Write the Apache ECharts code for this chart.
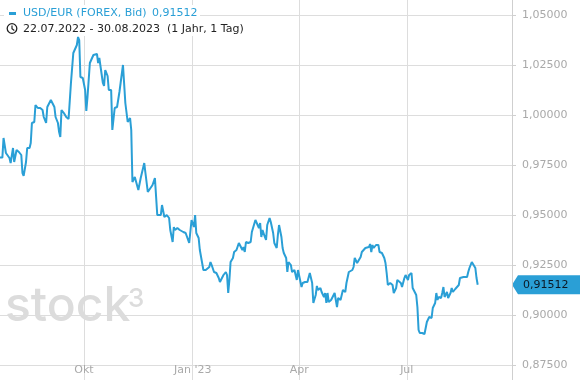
<!DOCTYPE html>
<html>
<head>
<meta charset="utf-8">
<script src="https://cdn.jsdelivr.net/npm/echarts@6/dist/echarts.min.js"></script>
<style>
html,body{margin:0;padding:0;background:#fff;}
#c{width:580px;height:380px;}
</style>
</head>
<body>
<div id="c"></div>
<script>
const seriesName = 'USD/EUR (FOREX, Bid)';
const rangeText = '22.07.2022 - 30.08.2023';
const rangeNote = '(1 Jahr, 1 Tag)';
const axisStart = '2022-07-22';
const axisEnd = '2023-09-28';
const xTickDates = ['2022-10-01', '2023-01-01', '2023-04-01', '2023-07-01'];
const xTickLabels = ['Okt', "Jan '23", 'Apr', 'Jul'];
const yTicks = [0.875, 0.9, 0.925, 0.95, 0.975, 1.0, 1.025, 1.05];

const dates = [
'2022-07-22','2022-07-24','2022-07-25','2022-07-27','2022-07-28','2022-07-30','2022-07-31',
'2022-08-02','2022-08-03','2022-08-05','2022-08-07','2022-08-09','2022-08-10','2022-08-11','2022-08-13','2022-08-14','2022-08-16','2022-08-17','2022-08-18','2022-08-20','2022-08-21','2022-08-23','2022-08-24','2022-08-25','2022-08-27','2022-08-28','2022-08-30','2022-08-31',
'2022-09-01','2022-09-03','2022-09-04','2022-09-06','2022-09-07','2022-09-09','2022-09-10','2022-09-11','2022-09-12','2022-09-14','2022-09-16','2022-09-17','2022-09-18','2022-09-20','2022-09-21','2022-09-22','2022-09-23','2022-09-25','2022-09-26','2022-09-27','2022-09-28','2022-09-30',
'2022-10-01','2022-10-02','2022-10-03','2022-10-04','2022-10-06','2022-10-07','2022-10-09','2022-10-12','2022-10-13','2022-10-14','2022-10-15','2022-10-17','2022-10-18','2022-10-19','2022-10-21','2022-10-22','2022-10-24','2022-10-25','2022-10-27','2022-10-29','2022-10-31',
'2022-11-01','2022-11-03','2022-11-05','2022-11-06','2022-11-07','2022-11-09','2022-11-10','2022-11-11','2022-11-13','2022-11-14','2022-11-16','2022-11-18','2022-11-19','2022-11-21','2022-11-22','2022-11-24','2022-11-25','2022-11-28','2022-11-30',
'2022-12-02','2022-12-03','2022-12-05','2022-12-06','2022-12-08','2022-12-10','2022-12-12','2022-12-13','2022-12-15','2022-12-16','2022-12-17','2022-12-19','2022-12-21','2022-12-22','2022-12-24','2022-12-26','2022-12-27','2022-12-29','2022-12-30','2022-12-31',
'2023-01-02','2023-01-03','2023-01-04','2023-01-06','2023-01-07','2023-01-08','2023-01-10','2023-01-12','2023-01-13','2023-01-15','2023-01-16','2023-01-17','2023-01-19','2023-01-21','2023-01-23','2023-01-24','2023-01-27','2023-01-29','2023-01-30','2023-01-31',
'2023-02-01','2023-02-02','2023-02-04','2023-02-05','2023-02-07','2023-02-08','2023-02-09','2023-02-10','2023-02-12','2023-02-13','2023-02-14','2023-02-15','2023-02-17','2023-02-19','2023-02-20','2023-02-21','2023-02-23','2023-02-24','2023-02-26','2023-02-27','2023-02-28',
'2023-03-01','2023-03-03','2023-03-04','2023-03-05','2023-03-07','2023-03-08','2023-03-10','2023-03-11','2023-03-13','2023-03-14','2023-03-15','2023-03-17','2023-03-18','2023-03-19','2023-03-21','2023-03-22','2023-03-23','2023-03-24','2023-03-25','2023-03-26','2023-03-28','2023-03-30','2023-03-31',
'2023-04-01','2023-04-03','2023-04-04','2023-04-06','2023-04-08','2023-04-10','2023-04-12','2023-04-13','2023-04-15','2023-04-16','2023-04-17','2023-04-19','2023-04-20','2023-04-22','2023-04-23','2023-04-24','2023-04-25','2023-04-26','2023-04-28','2023-04-29',
'2023-05-01','2023-05-02','2023-05-03','2023-05-04','2023-05-06','2023-05-07','2023-05-08','2023-05-10','2023-05-11','2023-05-13','2023-05-14','2023-05-16','2023-05-17','2023-05-18','2023-05-20','2023-05-21','2023-05-23','2023-05-24','2023-05-25','2023-05-27','2023-05-28','2023-05-30','2023-05-31',
'2023-06-01','2023-06-02','2023-06-03','2023-06-05','2023-06-07','2023-06-08','2023-06-09','2023-06-10','2023-06-12','2023-06-13','2023-06-14','2023-06-15','2023-06-16','2023-06-17','2023-06-19','2023-06-20','2023-06-22','2023-06-23','2023-06-24','2023-06-26','2023-06-27','2023-06-29','2023-06-30',
'2023-07-02','2023-07-03','2023-07-05','2023-07-06','2023-07-07','2023-07-09','2023-07-10','2023-07-11','2023-07-12','2023-07-14','2023-07-16','2023-07-17','2023-07-18','2023-07-20','2023-07-22','2023-07-23','2023-07-25','2023-07-26','2023-07-27','2023-07-28','2023-07-30','2023-07-31',
'2023-08-01','2023-08-02','2023-08-04','2023-08-05','2023-08-07','2023-08-08','2023-08-09','2023-08-11','2023-08-12','2023-08-14','2023-08-15','2023-08-16','2023-08-18','2023-08-19','2023-08-21','2023-08-22','2023-08-23','2023-08-24','2023-08-25','2023-08-26','2023-08-28','2023-08-29','2023-08-30'
];

const values = [
0.9787,0.9787,0.9885,0.981,0.98,0.9785,0.976,
0.9835,0.9765,0.9825,0.9815,0.98,0.971,0.9696,0.9765,0.9835,0.9835,0.986,0.996,0.9965,1.005,1.0035,1.003,1.0035,1.0025,0.999,0.996,1.004,
1.005,1.0075,1.0085,1.004,0.999,0.996,0.9915,0.989,1.0025,1.001,0.999,0.9985,0.998,1.016,1.0165,1.031,1.0315,1.035,1.039,1.0375,1.019,1.0185,
1.019,1.0125,1.002,1.009,1.026,1.0265,1.03,1.0305,1.026,1.0285,1.0275,1.016,1.0145,1.0225,1.0195,1.0125,1.0125,0.9925,1.0035,1.004,1.0115,
1.016,1.025,1.006,1.0065,0.9965,0.9985,0.9925,0.9665,0.969,0.9685,0.9625,0.9685,0.9685,0.976,0.971,0.9615,0.9615,0.965,0.9685,
0.95,0.949,0.95,0.955,0.949,0.95,0.9485,0.9425,0.9365,0.944,0.9425,0.9435,0.9425,0.9435,0.9415,0.941,0.9415,0.936,0.936,0.9475,
0.944,0.95,0.941,0.9385,0.9325,0.9315,0.9225,0.9225,0.9235,0.924,0.9265,0.925,0.9215,0.921,0.9185,0.9165,0.92,0.9215,0.92,0.911,
0.9175,0.9265,0.9285,0.9315,0.9325,0.9335,0.936,0.9365,0.9325,0.934,0.9315,0.9365,0.936,0.9365,0.9415,0.9435,0.9475,0.9485,0.9435,0.946,0.939,
0.9425,0.939,0.9375,0.945,0.9485,0.9465,0.941,0.936,0.9335,0.94,0.945,0.939,0.9335,0.931,0.9285,0.9215,0.9265,0.9275,0.925,0.9215,0.9225,0.9175,0.9225,
0.9215,0.914,0.916,0.9165,0.9165,0.921,0.916,0.906,0.91,0.9145,0.9125,0.9135,0.9115,0.909,0.911,0.906,0.911,0.9065,0.9075,0.9085,
0.911,0.9075,0.904,0.9085,0.9075,0.9085,0.9125,0.9115,0.916,0.9215,0.921,0.9225,0.924,0.9285,0.926,0.926,0.929,0.9315,0.9325,0.9335,0.9335,0.934,0.9355,
0.9315,0.935,0.9335,0.935,0.935,0.9315,0.9305,0.931,0.9285,0.926,0.921,0.915,0.914,0.916,0.915,0.911,0.9135,0.9175,0.9165,0.916,0.914,0.9185,0.92,
0.9175,0.92,0.921,0.9135,0.9125,0.91,0.904,0.8925,0.891,0.891,0.8905,0.891,0.8965,0.899,0.8985,0.9035,0.906,0.911,0.9075,0.909,0.9085,0.911,
0.914,0.909,0.9115,0.9085,0.911,0.9135,0.9115,0.913,0.914,0.915,0.9185,0.9175,0.919,0.92,0.919,0.9215,0.9235,0.9225,0.9265,0.9265,0.9235,0.9185,0.91512
];

function ts(s) {
  const p = s.split('-').map(Number);
  return Date.UTC(p[0], p[1] - 1, p[2]);
}
function fmtNum(v, d) { return v.toFixed(d).replace('.', ','); }

const BLUE = '#2a9fd6';
const GRID = '#dddddd';
const LABEL = '#a9a9a9';
const FONT = 'DejaVu Sans';

const xTicks = xTickDates.map(ts);
const step = yTicks[1] - yTicks[0];
const yMin = yTicks[0] - step * 0.3;
const yMax = yTicks[yTicks.length - 1] + step * 0.3;

const chart = echarts.init(document.getElementById('c'), null, { renderer: 'canvas' });

chart.setOption({
  animation: false,
  backgroundColor: '#fff',
  grid: { left: -1, right: 68, top: 0, bottom: 0 },
  xAxis: {
    type: 'value',
    min: ts(axisStart),
    max: ts(axisEnd),
    axisLine: { show: false },
    axisTick: { show: true, inside: true, length: 4, customValues: xTicks, lineStyle: { color: GRID } },
    axisLabel: {
      inside: true,
      customValues: xTicks,
      margin: 4,
      color: LABEL,
      fontSize: 11,
      fontFamily: FONT,
      showMinLabel: true,
      showMaxLabel: true,
      formatter: function (v) {
        const i = xTicks.indexOf(v);
        return i >= 0 ? xTickLabels[i] : '';
      }
    },
    splitLine: { show: true, lineStyle: { color: GRID, width: 1 } }
  },
  yAxis: {
    type: 'value',
    position: 'right',
    min: yMin,
    max: yMax,
    axisLine: { show: true, lineStyle: { color: '#cfcfcf' } },
    axisTick: { show: true, length: 4, customValues: yTicks, lineStyle: { color: '#cfcfcf' } },
    axisLabel: {
      customValues: yTicks,
      margin: 10,
      color: LABEL,
      fontSize: 11,
      fontFamily: FONT,
      formatter: function (v) { return fmtNum(v, 5); }
    },
    splitLine: { show: true, lineStyle: { color: GRID, width: 1 } }
  },
  series: [{
    name: seriesName,
    type: 'line',
    data: dates.map((d, i) => [ts(d), values[i]]),
    showSymbol: false,
    symbol: 'none',
    lineStyle: { color: BLUE, width: 2 },
    itemStyle: { color: BLUE },
    z: 5
  }]
});

const last = values[values.length - 1];
const py = chart.convertToPixel({ yAxisIndex: 0 }, last);
const axisX = chart.convertToPixel({ xAxisIndex: 0 }, ts(axisEnd));

chart.setOption({
  graphic: [
    { type: 'group', z: 0, silent: true, children: [
      { type: 'text', x: 5, y: 283, style: { text: 'stock', font: '500 48px Inter', fill: '#dcdcdc', verticalAlign: 'top' } },
      { type: 'text', x: 128, y: 286, style: { text: '3', font: '500 26px Inter', fill: '#dcdcdc', verticalAlign: 'top' } }
    ]},
    { type: 'group', z: 100, silent: true, children: [
      { type: 'rect', shape: { x: 4, y: 5, width: 196, height: 16 }, style: { fill: '#fff' } },
      { type: 'rect', shape: { x: 3, y: 21, width: 243, height: 15 }, style: { fill: '#fff' } },
      { type: 'rect', shape: { x: 9, y: 12, width: 7, height: 3 }, style: { fill: BLUE } },
      { type: 'text', x: 23, y: 13, style: { text: seriesName, font: '11px ' + FONT, fill: BLUE, verticalAlign: 'middle' } },
      { type: 'text', x: 152, y: 13, style: { text: fmtNum(last, 5), font: '11px ' + FONT, fill: BLUE, verticalAlign: 'middle' } },
      { type: 'circle', shape: { cx: 12, cy: 28.5, r: 4.8 }, style: { fill: 'none', stroke: '#222', lineWidth: 1.3 } },
      { type: 'polyline', shape: { points: [[12, 25.5], [12, 28.7], [14.3, 30.5]] }, style: { fill: 'none', stroke: '#222', lineWidth: 1.2 } },
      { type: 'text', x: 23, y: 29, style: { text: rangeText, font: '11px ' + FONT, fill: '#222', verticalAlign: 'middle' } },
      { type: 'text', x: 167, y: 29, style: { text: rangeNote, font: '11px ' + FONT, fill: '#222', verticalAlign: 'middle' } }
    ]},
    { type: 'group', z: 100, silent: true, children: [
      { type: 'polygon', shape: { points: [[axisX, py], [axisX + 6, py - 9.5], [580, py - 9.5], [580, py + 9.5], [axisX + 6, py + 9.5]] }, style: { fill: BLUE } },
      { type: 'text', x: axisX + 11, y: py, style: { text: fmtNum(last, 5), font: '11px ' + FONT, fill: '#0c1824', verticalAlign: 'middle' } }
    ]}
  ]
});
</script>
</body>
</html>
